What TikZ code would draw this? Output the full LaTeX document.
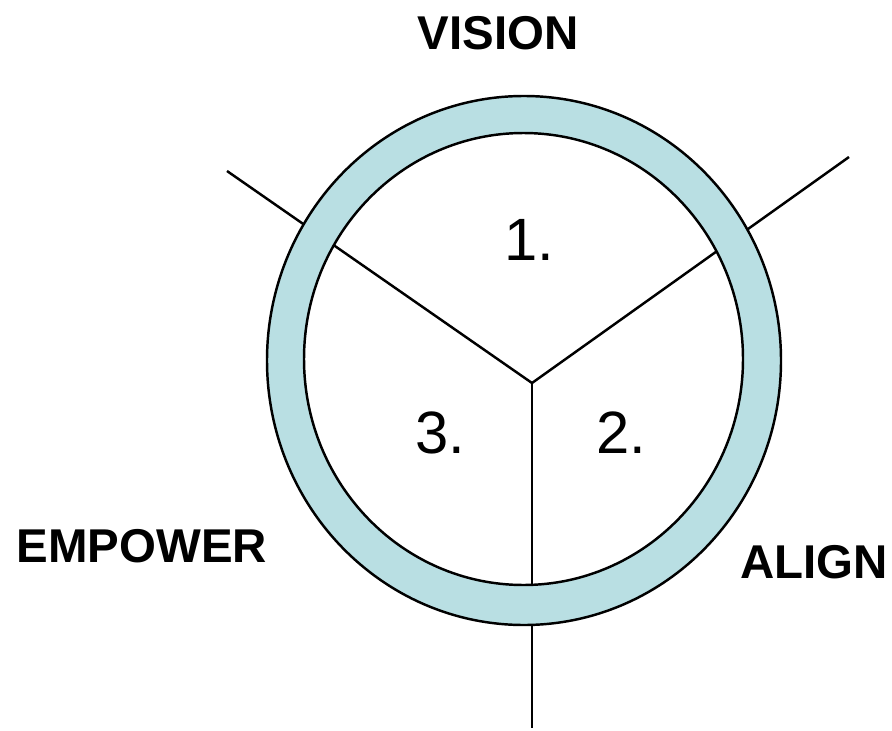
\documentclass[tikz,border=0pt]{standalone}
\usepackage{fontspec}
\setmainfont{Liberation Sans}
\usepackage{xcolor}
\usetikzlibrary{positioning}
\definecolor{ringteal}{HTML}{B9DFE3}
\tikzset{
  spoke/.style={draw=black, line width=1.4pt},
  ringline/.style={draw=black, line width=1.4pt},
  headlabel/.style={font=\fontsize{27}{30}\selectfont\bfseries, inner sep=0pt},
  numlabel/.style={font=\fontsize{34}{38}\selectfont, inner sep=0pt}
}

\begin{document}
\begin{tikzpicture}[x=0.02cm, y=-0.02cm]
\useasboundingbox (0,0) rectangle (892,730);
\coordinate (hub) at (532,383);
\coordinate (visionend) at (227,171);
\coordinate (alignend) at (849,157);
\coordinate (empowerend) at (532,728);

% spokes, ring goes on top
\draw[spoke] (hub) -- (visionend);
\draw[spoke] (hub) -- (alignend);
\draw[spoke] (hub) -- (empowerend);

\fill[ringteal, even odd rule] (524,360.5) ellipse [x radius=257, y radius=264.5]
  (523.5,359) ellipse [x radius=219.5, y radius=226];
\draw[ringline] (524,360.5) ellipse [x radius=257, y radius=264.5];
\draw[ringline] (523.5,359) ellipse [x radius=219.5, y radius=226];

\node[numlabel] (one) at (529,240) {1.};
\node[numlabel] (two) at (621,433) {2.};
\node[numlabel] (three) at (440,433) {3.};

\node[headlabel] (vision) at (498,33) {VISION};
\node[headlabel] (empower) at (142,546) {EMPOWER};
\node[headlabel] (align) at (814,562) {ALIGN};
\end{tikzpicture}
\end{document}
